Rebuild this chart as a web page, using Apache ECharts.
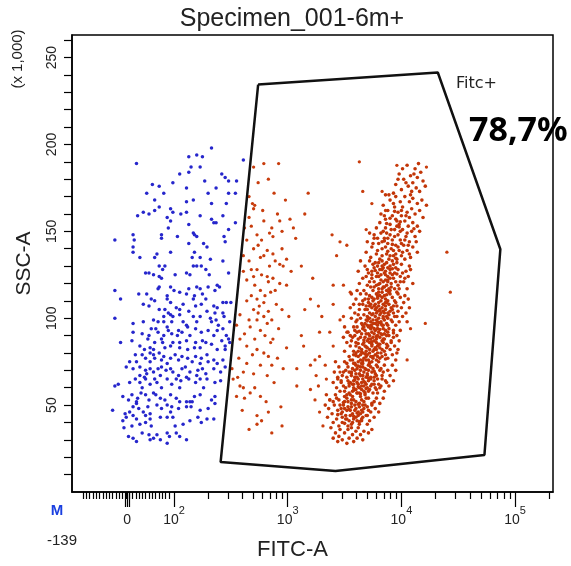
<!DOCTYPE html>
<html><head><meta charset="utf-8">
<script src="https://cdn.jsdelivr.net/npm/echarts@6/dist/echarts.min.js"></script>
<style>html,body{margin:0;padding:0;background:#fff}#c{width:571px;height:566px}</style>
</head><body><div id="c"></div>
<script>
// x values are display positions in decades of FITC-A (2 = 10^2), y values are SSC-A x 1,000
const negativeEvents = [
[2.33,198],[2.20,194],[2.25,193],[1.67,189],[2.13,193],[2.61,191],[2.15,187],[2.23,187],[2.13,184],[2.05,183],[2.42,183],[2.45,181],[2.48,179],[2.27,179],[1.99,178],[1.81,177],[1.87,176],[2.55,179],[2.11,175],[2.37,175],[1.76,172],[1.91,172],[2.30,172],[2.48,172],[2.54,172],[1.83,168],[2.17,168],[2.11,167],[2.33,166],[2.46,166],[1.87,164],[1.83,162],[1.73,161],[1.97,163],[1.99,161],[2.06,160],[2.11,161],[1.78,160],[1.68,159],[1.94,158],[1.97,156],[2.23,159],[2.43,159],[2.33,157],[2.35,155],[2.37,155],[2.54,155],[1.64,148],[1.89,148],[1.65,145],[1.95,152],[2.13,154],[2.48,151],[2.17,149],[2.18,148],[2.20,147],[1.48,145],[2.03,147],[1.89,146],[2.26,143],[2.29,141],[2.13,143],[2.44,147],[2.45,144],[1.64,141],[1.64,138],[1.70,135],[1.85,137],[1.83,135],[1.97,138],[2.18,138],[2.23,135],[2.16,135],[2.32,134],[2.43,133],[1.87,130],[1.92,130],[1.90,128],[2.17,130],[2.20,130],[2.24,130],[2.11,126],[2.14,125],[1.75,126],[1.78,126],[1.82,125],[2.01,125],[2.28,128],[2.31,125],[2.48,126],[1.87,124],[1.89,123],[1.87,118],[1.86,117],[1.97,118],[2.00,116],[2.05,115],[2.11,114],[2.13,117],[2.20,118],[2.23,117],[2.30,118],[2.38,119],[2.40,118],[2.36,116],[1.48,116],[1.69,114],[1.76,114],[2.25,114],[1.94,113],[2.18,113],
[1.80,111],[1.83,110],[1.94,111],[1.97,109],[2.17,111],[2.28,111],[2.43,109],[2.46,109],[2.50,109],[1.53,111],[2.02,106],[2.05,105],[2.08,108],[2.19,107],[2.24,108],[2.35,107],[2.38,106],[1.73,108],[1.78,107],[1.87,105],[1.92,105],[2.13,104],[2.29,104],[2.36,103],[1.48,100],[2.43,103],
[1.95,103],[1.97,102],[1.91,101],[1.99,101],[2.05,102],[2.17,101],[2.23,101],[2.32,100],[2.37,99],[2.44,101],[1.64,97],[1.73,98],[1.82,99],[1.86,98],[1.91,98],[1.98,98],[2.08,98],[2.11,96],[2.20,98],[2.33,98],[2.39,96],[2.49,98],
[1.80,94],[1.84,94],[1.86,92],[1.94,95],[1.95,93],[1.98,91],[2.04,93],[2.07,92],[2.12,95],[2.19,94],[2.24,92],[2.30,93],[2.38,93],[2.43,94],[2.46,90],[1.78,90],[1.72,91],[1.64,92],[1.91,90],[2.03,90],[2.14,90],[2.35,90],[2.42,87],[2.48,88],
[1.53,86],[1.63,87],[1.77,88],[1.83,86],[1.89,88],[1.90,86],[1.99,86],[2.05,86],[2.11,87],[2.19,86],[2.25,87],[2.28,86],[2.33,85],[2.45,84],[2.49,86],[1.70,84],[1.74,82],[1.79,83],[1.82,82],[1.92,83],[1.97,84],[2.05,83],[2.12,82],[2.18,83],[2.23,83],[2.38,82],[2.45,82],
[1.66,79],[1.72,79],[1.75,77],[1.79,80],[1.82,79],[1.83,77],[1.87,80],[1.91,78],[1.89,76],[1.97,77],[2.01,79],[2.07,78],[2.12,77],[2.19,78],[2.24,77],[2.29,79],[2.35,76],[2.43,76],[1.61,75],[1.67,75],[1.79,75],[1.94,74],[2.04,76],[2.16,75],[2.23,74],[2.30,75],[2.38,74],
[1.58,72],[1.64,71],[1.70,72],[1.75,70],[1.76,68],[1.79,71],[1.82,69],[1.86,71],[1.89,72],[1.93,70],[1.97,71],[1.99,69],[2.07,71],[2.10,72],[2.14,69],[2.21,70],[2.25,71],[2.28,68],[2.35,71],[2.41,69],[2.45,72],[1.70,67],[1.88,67],[2.04,67],[2.20,67],
[1.48,61],[1.51,62],[1.61,63],[1.66,65],[1.70,63],[1.74,66],[1.75,65],[1.79,62],[1.83,65],[1.85,63],[1.94,65],[1.98,62],[2.02,65],[2.06,64],[2.11,66],[2.13,65],[2.19,63],[2.23,65],[2.29,65],[2.36,63],[2.41,64],[1.72,60],[1.89,60],[2.05,60],[2.26,60],
[1.55,55],[1.63,56],[1.68,54],[1.71,57],[1.75,56],[1.78,53],[1.82,57],[1.84,56],[1.88,54],[1.92,53],[1.97,56],[2.02,54],[2.05,52],[2.11,52],[2.14,52],[2.16,52],[2.18,55],[2.23,56],[2.33,53],[2.36,55],[1.67,52],[1.60,53],
[1.46,47],[1.57,45],[1.64,49],[1.67,51],[1.69,48],[1.73,46],[1.77,49],[1.79,45],[1.85,50],[1.89,48],[1.94,50],[1.98,49],[1.97,46],[2.04,48],[2.11,49],[2.15,49],[2.23,47],[2.30,48],[2.36,51],[1.61,46],[1.75,44],
[1.55,41],[1.58,43],[1.64,44],[1.67,42],[1.70,39],[1.75,40],[1.79,42],[1.80,38],[1.88,43],[1.94,43],[1.99,43],[2.01,38],[2.08,39],[2.14,41],[2.21,43],[2.24,40],[2.29,42],[1.63,38],[1.56,37],[2.35,42],
[1.60,32],[1.64,31],[1.67,29],[1.72,34],[1.78,33],[1.82,31],[1.85,33],[1.94,34],[1.96,32],[2.02,34],[1.79,30],[1.88,30],[1.94,28],[2.05,32],[2.11,30]
];
const fitcPosScattered = [
[2.79,189],[2.92,189],[2.83,180],[2.69,166],[2.71,165],[2.70,163],[2.79,156],[2.93,156],[2.86,152],[2.95,150],[3.05,152],[2.62,152],[2.68,153],[2.73,148],[2.64,145],[2.77,145],[2.87,147],[3.07,146],[2.74,142],[2.82,139],[2.87,137],[2.95,140],[2.61,136],[2.76,135],[2.79,136],[2.89,133],[2.93,131],[2.96,130],[2.68,128],[2.73,128],[2.61,127],[2.77,125],[2.82,124],[2.87,123],[2.64,122],[2.83,121],[2.99,119],[2.71,119],[2.76,116],[2.85,115],[2.89,116],[2.68,113],[2.73,111],[2.79,109],[2.75,107],[2.70,105],[2.83,104],[2.95,105],[2.74,103],[2.79,101],[2.73,99],[2.82,97],[2.86,99],[2.58,102],[2.67,95],[2.76,93],[2.80,90],[2.87,88],[2.62,91],[2.71,88],[2.55,96],[2.64,84],[2.73,82],[2.79,80],[2.83,78],[2.57,77],[2.64,74],[2.86,73],[2.96,71],[2.61,69],[2.70,68],[2.82,67],[2.51,71],[2.58,61],[2.52,65],[2.61,60],[2.71,60],[2.76,55],[2.55,55],[2.62,54],[2.73,44],[2.83,46],[2.86,34],[2.73,39],[3.08,61],[3.08,71],
[3.18,172],[3.20,111],[3.27,107],[3.15,105],[3.40,108],[3.39,148],[3.46,144],[3.43,136],[3.52,142],[3.40,119],[3.12,90],[3.28,92],[3.37,92],[3.28,78],[3.24,76],[3.40,84],[3.20,73],[3.33,73],[3.46,69],[3.34,65],[3.27,61],[3.24,53],[3.37,53],[3.28,46],[3.20,59],[3.52,92],[3.46,99],[3.49,119],[3.55,115],[3.49,101],[3.31,38],
[3.63,190],[3.96,188],[4.22,187],[3.66,173],[3.74,166],[3.69,151],[3.83,173],[3.86,162],[4.40,138],[4.43,115],[4.21,97],[4.08,94],[4.05,76],
[2.70,187],[2.74,178],[2.88,172],[2.66,170],[2.98,168],[2.78,162],[2.91,160],[2.66,158],[3.02,157],[2.84,149],[2.70,140],[2.99,134],[2.66,133],[2.84,130],[3.03,127],[2.70,124],[2.93,120],[2.80,113],[2.64,110],[2.90,108],[3.01,101],[2.66,99],[2.92,94],[2.58,88],[2.85,86],[2.99,83],[2.69,79],[2.91,77],[2.76,73],[2.56,66],[2.88,63],[2.67,57],[2.81,52],[2.94,49],[2.60,47],[2.77,41],[2.66,36],[2.95,38],[3.12,130],[3.15,160],[3.22,123],[3.30,101],[3.14,84],[3.25,67]
];
const fitcPosCluster = [
[4.05,188],[4.12,186],[4.17,184],[3.98,183],[4.08,182],[4.14,181],[4.02,180],[4.19,179],[4.10,178],[3.95,177],[4.06,176],[4.13,175],[4.00,174],[4.16,173],[4.09,173],[3.93,172],[4.04,178],[4.21,176],[4.11,183],[4.01,186],[4.15,189],[3.97,180],
[3.86,171],[3.95,170],[4.03,170],[4.10,169],[4.18,168],[3.90,168],[3.99,167],[4.07,167],[4.14,166],[4.22,165],[3.84,165],[3.94,164],[4.01,164],[4.09,163],[4.16,162],[3.88,162],[3.97,161],[4.05,161],[4.12,160],[3.82,160],[3.92,159],[4.00,159],[4.07,158],[4.19,158],[3.86,157],[3.95,157],[4.03,156],[4.10,155],[3.81,155],[3.90,154],[3.98,154],[4.06,153],[4.14,153],[3.93,166],[4.04,159],[3.89,171],[4.00,162],[3.96,156],[4.08,171],[3.85,159],
[3.78,152],[3.86,152],[3.94,151],[4.01,151],[4.09,150],[4.16,150],[3.72,149],[3.82,149],[3.90,148],[3.97,148],[4.04,147],[4.12,147],[3.76,146],[3.85,146],[3.92,145],[3.99,145],[4.07,144],[3.70,144],[3.80,143],[3.88,143],[3.95,142],[4.02,142],[4.10,141],[3.74,141],[3.83,140],[3.91,140],[3.98,139],[4.05,139],[4.14,138],[3.69,138],[3.78,137],[3.87,137],[3.93,136],[4.00,136],[4.08,135],[3.73,135],[3.81,134],[3.89,134],[3.96,134],[4.03,134],[3.84,150],[3.96,153],[4.05,149],[3.88,146],[3.94,147],[4.00,143],[3.86,141],[3.93,139],[3.79,139],[4.01,138],[3.90,136],[3.97,141],[3.83,144],[4.06,142],[3.75,143],[3.99,150],[3.91,151],[4.13,144],[3.87,149],[3.95,137],
[3.64,133],[3.72,133],[3.80,132],[3.87,132],[3.93,131],[4.00,131],[4.07,130],[3.68,130],[3.76,129],[3.84,129],[3.90,128],[3.97,128],[4.04,127],[3.62,127],[3.71,126],[3.79,126],[3.86,125],[3.92,125],[3.99,124],[4.06,124],[3.66,123],[3.74,123],[3.82,122],[3.88,122],[3.95,121],[4.02,121],[4.10,120],[3.63,120],[3.70,119],[3.78,119],[3.85,118],[3.91,118],[3.98,117],[4.05,117],[3.67,116],[3.75,116],[3.83,115],[3.89,115],[3.96,115],[3.61,116],
[3.83,133],[3.90,130],[3.86,127],[3.81,128],[3.94,126],[3.88,124],[3.78,124],[3.84,121],[3.91,120],[3.80,117],[3.87,119],[3.93,123],[3.76,121],[3.97,119],[3.85,131],[3.74,127],[4.01,126],[3.82,125],[3.89,117],[3.79,130],[3.92,133],[3.73,118],[3.87,116],[3.95,129],[3.69,124],[4.03,123],[3.81,120],[3.86,122],[3.77,132],[3.99,121],[3.90,126],[3.84,118],[3.96,132],[3.72,121],[3.83,128],[3.88,129],[3.80,115],[3.94,117],[3.75,131],[4.08,128],
[3.56,114],[3.64,114],[3.72,113],[3.79,113],[3.85,113],[3.92,112],[3.99,112],[4.06,111],[3.60,111],[3.68,111],[3.75,110],[3.82,110],[3.88,110],[3.95,109],[4.02,109],[3.58,108],[3.66,108],[3.73,108],[3.80,107],[3.86,107],[3.93,107],[4.00,106],[4.07,106],[3.55,106],[3.63,105],[3.70,105],[3.77,105],[3.84,104],[3.90,104],[3.97,104],[4.04,103],[3.59,103],[3.67,102],[3.74,102],[3.81,102],[3.87,101],[3.94,101],[4.01,101],[3.56,100],[3.64,100],[3.71,100],[3.78,99],[3.85,99],[3.91,99],[3.98,98],[4.05,98],[3.60,98],[3.68,97],[3.75,97],[3.82,97],[3.88,96],[3.95,96],
[3.78,114],[3.83,112],[3.76,111],[3.86,111],[3.80,109],[3.71,109],[3.89,108],[3.77,108],[3.83,106],[3.74,106],[3.91,106],[3.79,104],[3.86,105],[3.72,103],[3.82,103],[3.89,102],[3.77,101],[3.84,101],[3.70,101],[3.80,100],[3.88,100],[3.75,99],[3.82,98],[3.73,98],[3.87,97],[3.79,96],[3.70,96],[3.93,103],[3.66,110],[3.96,107],[3.62,102],[3.69,99],[3.84,108],[3.78,103],[3.81,105],[3.74,112],[3.90,114],[3.65,97],[3.92,98],[3.87,109],[3.81,113],[3.76,107],[3.85,103],[3.79,98],[3.72,100],[3.96,101],[3.83,96],[3.69,107],[4.03,113],[3.61,99],
[3.50,95],[3.58,95],[3.66,94],[3.73,94],[3.79,94],[3.86,93],[3.93,93],[3.99,93],[3.53,92],[3.61,92],[3.69,91],[3.76,91],[3.82,91],[3.89,90],[3.96,90],[3.49,89],[3.57,89],[3.64,89],[3.71,88],[3.78,88],[3.84,88],[3.91,87],[3.98,87],[3.52,86],[3.60,86],[3.67,86],[3.74,85],[3.80,85],[3.87,85],[3.94,84],[3.55,84],[3.63,83],[3.70,83],[3.77,83],[3.83,82],[3.90,82],[3.97,82],[3.50,81],[3.58,81],[3.66,80],[3.72,80],[3.79,80],[3.86,79],[3.92,79],[3.54,78],[3.62,78],[3.69,78],[3.75,77],[3.81,77],[3.88,77],[3.95,76],[3.57,76],
[3.71,95],[3.77,93],[3.68,93],[3.74,92],[3.80,92],[3.65,91],[3.72,90],[3.79,90],[3.85,91],[3.68,89],[3.75,89],[3.81,89],[3.62,88],[3.70,87],[3.76,87],[3.83,87],[3.66,85],[3.72,86],[3.78,86],[3.84,86],[3.60,84],[3.68,84],[3.74,84],[3.81,83],[3.65,82],[3.72,82],[3.78,82],[3.62,81],[3.69,81],[3.75,81],[3.82,80],[3.64,79],[3.70,79],[3.77,79],[3.60,80],[3.67,77],[3.73,78],[3.79,78],[3.64,76],[3.71,76],[3.84,94],[3.88,84],[3.59,93],[3.93,89],[3.56,87],[3.85,81],[3.91,86],[3.58,79],[3.76,94],[3.67,95],[3.83,78],[3.73,96],[3.89,94],[3.55,90],[3.96,80],[3.61,95],[3.87,90],[3.78,76],
[3.42,75],[3.50,75],[3.58,74],[3.65,74],[3.72,74],[3.78,73],[3.85,73],[3.92,73],[3.45,72],[3.53,72],[3.61,71],[3.68,71],[3.75,71],[3.81,70],[3.88,70],[3.95,70],[3.41,69],[3.49,69],[3.56,69],[3.63,68],[3.70,68],[3.77,68],[3.83,67],[3.90,67],[3.44,66],[3.52,66],[3.59,66],[3.66,65],[3.73,65],[3.79,65],[3.86,64],[3.93,64],[3.40,63],[3.47,63],[3.55,63],[3.62,62],[3.69,62],[3.76,62],[3.82,61],[3.89,61],[3.43,60],[3.51,60],[3.58,60],[3.65,59],[3.72,59],[3.78,59],[3.85,58],[3.46,58],[3.54,57],[3.61,57],[3.68,57],[3.75,57],
[3.62,75],[3.69,76],[3.66,72],[3.71,73],[3.60,73],[3.64,70],[3.71,70],[3.57,71],[3.67,69],[3.74,69],[3.60,68],[3.66,67],[3.73,66],[3.56,67],[3.62,65],[3.69,66],[3.76,66],[3.58,64],[3.65,63],[3.71,64],[3.53,64],[3.61,63],[3.67,61],[3.73,61],[3.57,62],[3.63,60],[3.70,60],[3.54,61],[3.60,59],[3.67,58],[3.57,58],[3.63,57],[3.71,58],[3.80,75],[3.48,67],[3.84,69],[3.52,74],[3.87,63],[3.49,61],[3.80,62],[3.44,65],[3.76,64],[3.55,76],[3.64,72],[3.82,71],[3.50,58],[3.68,63],[3.59,70],[3.74,75],[3.65,61],[3.79,57],[3.70,67],[3.61,66],[3.54,69],[3.77,60],[3.66,74],[3.58,62],[3.73,72],
[3.34,56],[3.42,56],[3.50,55],[3.57,55],[3.64,55],[3.71,54],[3.78,54],[3.84,54],[3.37,53],[3.45,53],[3.53,52],[3.60,52],[3.67,52],[3.74,51],[3.81,51],[3.33,50],[3.41,50],[3.49,50],[3.56,49],[3.63,49],[3.70,49],[3.77,48],[3.36,48],[3.44,47],[3.52,47],[3.59,47],[3.66,46],[3.73,46],[3.80,46],[3.39,45],[3.47,45],[3.55,44],[3.62,44],[3.69,44],[3.76,43],[3.35,43],[3.43,42],[3.51,42],[3.58,42],[3.65,41],[3.72,41],[3.40,40],[3.48,40],[3.56,39],[3.63,39],[3.70,39],[3.45,38],[3.53,38],
[3.55,56],[3.61,57],[3.58,53],[3.65,53],[3.52,54],[3.56,51],[3.63,51],[3.50,52],[3.59,50],[3.66,50],[3.53,49],[3.60,48],[3.67,48],[3.55,47],[3.62,46],[3.48,46],[3.57,45],[3.64,45],[3.51,44],[3.60,43],[3.66,43],[3.54,41],[3.61,41],[3.48,43],[3.57,40],[3.68,56],[3.46,50],[3.71,47],[3.43,54],[3.74,50],[3.50,48],[3.65,42],
[3.38,37],[3.46,36],[3.53,36],[3.60,35],[3.67,35],[3.42,34],[3.50,34],[3.57,33],[3.64,33],[3.71,34],[3.45,32],[3.54,31],[3.61,31],[3.40,31],[3.48,30],[3.58,29],[3.66,30],[3.52,28],[3.44,29],[3.62,37],[3.56,37],[3.74,36],
[3.77,127.5],[3.85,126],[3.92,128.5],[3.70,128],[3.80,124],[3.96,125.5],[3.88,121],[3.74,125],[3.83,130],[3.90,123],
[3.76,118],[3.83,117],[3.90,116],[3.69,114],[3.79,111.5],[3.86,109],[3.72,107],[3.94,110],[3.81,104.5],[3.88,103],[3.75,102.5],[3.68,105],[3.84,100],[3.92,105],[3.78,106],[3.71,111],[3.97,114],[3.63,108],[3.87,113.5],[3.80,119.5],
[3.70,98.5],[3.77,97],[3.84,96],[3.66,96],[3.74,95],[3.81,93.5],[3.88,92],[3.63,92.5],[3.71,91],[3.78,89.5],[3.85,88],[3.67,87.5],[3.74,86.5],[3.81,85],[3.69,83.5],[3.76,82],[3.87,83],[3.62,85.5],[3.93,91.5],[3.59,90],[3.80,97.5],[3.73,88],[3.65,80.5],[3.83,90.5],[3.79,84],
[3.60,78.5],[3.68,79.5],[3.75,78],[3.66,75.5],[3.72,74.5],[3.59,74],[3.79,72],[3.62,72.5],[3.69,70.5],[3.76,69.5],[3.56,68.5],[3.64,67],[3.71,65.5],[3.78,67],[3.59,64.5],[3.67,63.5],[3.74,62],[3.54,62.5],[3.62,60.5],[3.69,59.5],[3.83,65],[3.51,70],[3.86,76.5],[3.47,64],[3.81,60],
[3.58,58.5],[3.64,56.5],[3.52,56],[3.69,54],[3.56,53],[3.62,50.5],[3.49,51.5],[3.68,50],[3.54,47.5],[3.61,45.5],[3.47,48],[3.65,47],[3.58,43.5],[3.52,42],[3.70,44],[3.44,44.5],[3.63,40.5],[3.76,52],[3.40,52],[3.50,39.5],
[3.90,157.5],[3.98,152.5],[4.03,145],[3.85,144.5],[3.92,142.5],[3.79,146],[3.88,138.5],[3.95,134.5],[4.07,137],[3.83,136],[3.99,155.5],[3.87,154.5],[3.76,148],[4.11,151.5],[3.94,161.5]
];
// Fitc+ gate polygon vertices (same units as the data)
const gateX = [2.74, 4.32, 4.87, 4.73, 3.42, 2.41, 2.74];
const gateY = [234.5, 241.4, 139.7, 21.3, 12.1, 17.2, 234.5];
// axis ticks and labels
const xTickValues = [1.587, 2, 3, 4, 5];
const xTickBase = ['0', '10', '10', '10', '10'];
const xTickExp = ['', '2', '3', '4', '5'];
const xMinLabel = '-139';
const yTickValues = [50, 100, 150, 200, 250];
const titleText = 'Specimen_001-6m+';
const gateName = 'Fitc+';
const gatePercent = '78,7%';

const X_MIN = 1.103, X_MAX = 5.333, Y_MIN = 0, Y_MAX = 263;
// tick layout: dense ticks in the linear region, log ticks per decade
const xMinorTicks = [];
for (let v = 1.20; v < 1.975; v += 0.029) xMinorTicks.push(+v.toFixed(3));
for (let n = 2; n <= 4; n++) for (let k = 2; k <= 9; k++) xMinorTicks.push(n + Math.log10(k));
xMinorTicks.push(5 + Math.log10(2));
const xMajorTicks = [1.567, 1.587, 1.607, 2, 3, 4, 5];
const yMinorTicks = [];
for (let v = 10; v <= 260; v += 10) yMinorTicks.push(v);

const FONT = 'Liberation Sans';
const chart = echarts.init(document.getElementById('c'), null, {renderer: 'canvas'});
const axisBase = {
  type: 'value', min: X_MIN, max: X_MAX, position: 'bottom', gridIndex: 0,
  splitLine: {show: false}
};
chart.setOption({
  animation: false,
  backgroundColor: '#fff',
  grid: {left: 72, right: 18, top: 35, bottom: 72, show: true, borderColor: '#000', borderWidth: 1.5, containLabel: false},
  xAxis: [
    Object.assign({}, axisBase, {
      axisLine: {show: true, lineStyle: {color: '#000', width: 1.5}},
      axisTick: {show: true, inside: false, length: 7, customValues: xMinorTicks, lineStyle: {color: '#000', width: 1.2}},
      axisLabel: {show: false}
    }),
    Object.assign({}, axisBase, {
      axisLine: {show: false},
      axisTick: {show: true, inside: false, length: 15, customValues: xMajorTicks, lineStyle: {color: '#000', width: 1.2}},
      axisLabel: {
        show: true, customValues: xTickValues, margin: 13,
        formatter: function (v) {
          let i = xTickValues.findIndex(t => Math.abs(t - v) < 1e-6);
          if (i < 0) return '';
          return xTickExp[i] ? '{b|' + xTickBase[i] + '}{s|' + xTickExp[i] + '}' : '{b|' + xTickBase[i] + '}';
        },
        rich: {
          b: {fontFamily: FONT, fontSize: 14, color: '#222', lineHeight: 22, verticalAlign: 'bottom'},
          s: {fontFamily: FONT, fontSize: 11, color: '#222', lineHeight: 22, verticalAlign: 'top'}
        }
      },
      name: 'FITC-A', nameLocation: 'middle', nameGap: 47,
      nameTextStyle: {fontFamily: FONT, fontSize: 22, color: '#222', padding: [0, 40, 0, 0]}
    })
  ],
  yAxis: {
    type: 'value', min: Y_MIN, max: Y_MAX,
    splitLine: {show: false},
    axisLine: {show: true, lineStyle: {color: '#000', width: 1.5}},
    axisTick: {show: true, inside: false, length: 8, customValues: yMinorTicks, lineStyle: {color: '#000', width: 1.2}},
    axisLabel: {show: true, customValues: yTickValues, rotate: 90, margin: 13, fontFamily: FONT, fontSize: 14, color: '#222'},
    name: 'SSC-A', nameLocation: 'middle', nameGap: 37,
    nameTextStyle: {fontFamily: FONT, fontSize: 21, color: '#222'}
  },
  graphic: [
    {type: 'text', x: 292, y: 19, style: {text: titleText, font: '25px "Liberation Sans"', fill: '#222', align: 'center', verticalAlign: 'middle'}},
    {type: 'text', x: 18, y: 59, rotation: Math.PI / 2, style: {text: '(x 1,000)', font: '15px "Liberation Sans"', fill: '#222', align: 'center', verticalAlign: 'middle'}},
    {type: 'text', x: 57, y: 511, style: {text: 'M', font: 'bold 15px "Liberation Sans"', fill: '#1a3fe0', align: 'center', verticalAlign: 'middle'}},
    {type: 'text', x: 62, y: 541, style: {text: xMinLabel, font: '15px "Liberation Sans"', fill: '#222', align: 'center', verticalAlign: 'middle'}},
    {type: 'text', x: 456, y: 84, style: {text: gateName, font: '16px "DejaVu Sans"', fill: '#222', align: 'left', verticalAlign: 'middle'}},
    {type: 'text', x: 469, y: 131, style: {text: gatePercent, font: 'bold 34px "Noto Sans"', fill: '#000', align: 'left', verticalAlign: 'middle'}}
  ],
  series: [
    {type: 'scatter', xAxisIndex: 0, data: negativeEvents, symbol: 'circle', symbolSize: 3.5,
      itemStyle: {color: '#2626cc', opacity: 1}, z: 2},
    {type: 'scatter', xAxisIndex: 0, data: fitcPosScattered, symbol: 'circle', symbolSize: 3.3,
      itemStyle: {color: '#c83c0c', opacity: 1}, z: 2},
    {type: 'scatter', xAxisIndex: 0, data: fitcPosCluster, symbol: 'circle', symbolSize: 3.6,
      itemStyle: {color: '#c23608', opacity: 1}, z: 2},
    {type: 'line', xAxisIndex: 0, data: gateX.map((x, i) => [x, gateY[i]]), showSymbol: false, symbol: 'none',
      lineStyle: {color: '#111', width: 2.5}, z: 3, silent: true}
  ]
});
</script>
</body></html>
